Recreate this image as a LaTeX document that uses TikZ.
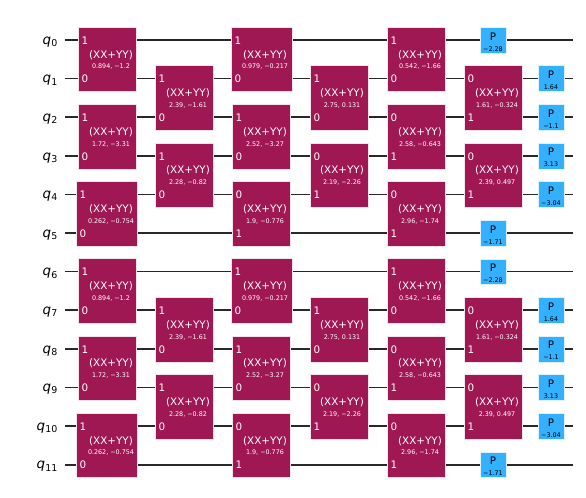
\documentclass[tikz,border=0pt]{standalone}
\usepackage{fontspec}
\setmainfont{DejaVu Sans}
\definecolor{gatecol}{HTML}{9F1853}
\definecolor{phasecol}{HTML}{33B1FF}
\definecolor{wirecol}{HTML}{282828}
\definecolor{edgecol}{HTML}{F3E3EA}
\definecolor{edgeblue}{HTML}{DDF1FF}
\tikzset{
  gatebox/.style={fill=gatecol,draw=edgecol,line width=0.4pt,inner sep=0pt},
  phasebox/.style={fill=phasecol,draw=edgeblue,line width=0.4pt,inner sep=0pt,minimum width=26bp,minimum height=25.8bp},
  wireline/.style={draw=wirecol,line width=1.8pt},
  gatetxt/.style={text=white,font=\fontsize{10.4}{12}\selectfont,inner sep=0pt},
  pintxt/.style={text=white,font=\fontsize{10.4}{12}\selectfont,inner sep=0pt},
  paramtxt/.style={text=white,font=\fontsize{6.4}{8}\selectfont,inner sep=0pt},
  phasetxt/.style={text=black,font=\fontsize{10.4}{12}\selectfont,inner sep=0pt},
  phaseparam/.style={text=black,font=\fontsize{6.4}{8}\selectfont,inner sep=0pt},
  qlabel/.style={text=black,inner sep=0pt,anchor=base east},
}
% name, left x, right x, text x, top wire, top pin, bottom pin, parameter
\newcommand{\xxgate}[8]{%
  \pgfmathsetmacro{\ya}{40+38.6*(#5)}%
  \pgfmathsetmacro{\yb}{40+38.6*(#5+1)}%
  \pgfmathsetmacro{\ym}{(\ya+\yb)/2}%
  \node[gatebox,minimum width={(#3-#2)*1bp},minimum height={(\yb-\ya+26)*1bp}] (#1) at ({(#2+#3)/2},\ym) {};
  \node[pintxt] (#1a) at ({#2+7},\ya+0.5) {#6};
  \node[pintxt] (#1b) at ({#2+7},\yb+0.5) {#7};
  \node[gatetxt] (#1t) at (#4,\ym-4.5) {(XX+YY)};
  \node[paramtxt] (#1p) at (#4,\ym+7.6) {#8};
}
\newcommand{\pgate}[4]{%
  \pgfmathsetmacro{\ya}{40+38.6*(#3)}%
  \node[phasebox] (#1) at (#2,\ya) {};
  \node[phasetxt] (#1t) at (#2,\ya-3.7) {P};
  \node[phaseparam] (#1p) at (#2,\ya+8.7) {#4};
}
\newcommand{\halfcircuit}[2]{%
  \pgfmathtruncatemacro{\wirA}{#2}\pgfmathtruncatemacro{\wirB}{#2+1}\pgfmathtruncatemacro{\wirC}{#2+2}%
  \pgfmathtruncatemacro{\wirD}{#2+3}\pgfmathtruncatemacro{\wirE}{#2+4}\pgfmathtruncatemacro{\wirF}{#2+5}%
  \xxgate{#1a1}{78}{136}{111}{\wirA}{1}{0}{0.894, −1.2}
  \xxgate{#1a2}{78}{136}{111}{\wirC}{1}{0}{1.72, −3.31}
  \xxgate{#1a3}{76}{137}{111}{\wirE}{1}{0}{0.262, −0.754}
  \xxgate{#1b1}{155}{213}{188}{\wirB}{1}{0}{2.39, −1.61}
  \xxgate{#1b2}{155}{213}{188}{\wirD}{1}{0}{2.28, −0.82}
  \xxgate{#1c1}{231}{292}{265}{\wirA}{1}{0}{0.979, −0.217}
  \xxgate{#1c2}{232}{290}{265}{\wirC}{1}{0}{2.52, −3.27}
  \xxgate{#1c3}{232}{290}{265}{\wirE}{0}{1}{1.9, −0.776}
  \xxgate{#1d1}{310}{368}{342}{\wirB}{1}{0}{2.75, 0.131}
  \xxgate{#1d2}{310}{368}{342}{\wirD}{0}{1}{2.19, −2.26}
  \xxgate{#1e1}{387}{445}{420}{\wirA}{1}{0}{0.542, −1.66}
  \xxgate{#1e2}{387}{445}{420}{\wirC}{0}{1}{2.58, −0.643}
  \xxgate{#1e3}{387}{445}{420}{\wirE}{0}{1}{2.96, −1.74}
  \xxgate{#1f1}{464}{522}{497}{\wirB}{0}{1}{1.61, −0.324}
  \xxgate{#1f2}{464}{522}{497}{\wirD}{0}{1}{2.39, 0.497}
  \pgate{#1p0}{493}{\wirA}{−2.28}
  \pgate{#1p1}{551}{\wirB}{1.64}
  \pgate{#1p2}{551}{\wirC}{−1.1}
  \pgate{#1p3}{551}{\wirD}{3.13}
  \pgate{#1p4}{551}{\wirE}{−3.04}
  \pgate{#1p5}{493}{\wirF}{−1.71}
}
\newcommand{\qname}[1]{\fontsize{13.5}{15}\selectfont\itshape q\raisebox{-2.2bp}{\fontsize{9.5}{11}\selectfont\upshape #1}}
\begin{document}
\begin{tikzpicture}[x=1bp,y=-1bp]
\useasboundingbox (0,0) rectangle (586,498);
\fill[white] (0,0) rectangle (586,498);
\foreach \i in {0,...,11} {
  \pgfmathsetmacro{\wyy}{40+38.6*\i}
  \coordinate (ws\i) at (65,\wyy);
  \coordinate (we\i) at (573,\wyy);
  \draw[wireline] (ws\i) -- (we\i);
  \node[qlabel] (q\i) at (57.5,\wyy+4.3) {\qname{\i}};
}
\halfcircuit{u}{0}
\halfcircuit{v}{6}
\end{tikzpicture}
\end{document}
